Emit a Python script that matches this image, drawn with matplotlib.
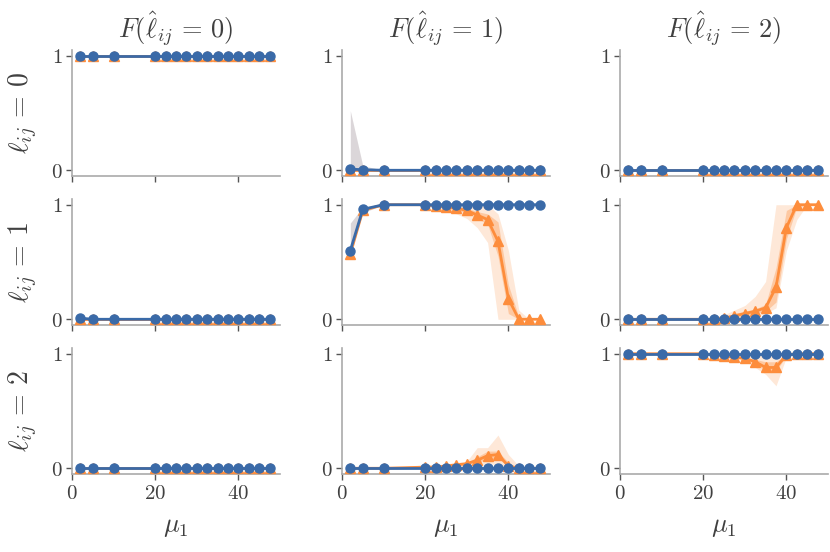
import numpy as np
import matplotlib
matplotlib.use("Agg")
import matplotlib.pyplot as plt

plt.rcParams['mathtext.fontset'] = 'cm'
plt.rcParams['font.family'] = ['DejaVu Serif']

mu = [2, 5, 10, 20, 22.5, 25, 27.5, 30, 32.5, 35, 37.5, 40, 42.5, 45, 47.5]

col_titles = [r'$F(\hat{\ell}_{ij}\,=\,0)$', r'$F(\hat{\ell}_{ij}\,=\,1)$', r'$F(\hat{\ell}_{ij}\,=\,2)$']
row_labels = [r'$\ell_{ij}\,=\,0$', r'$\ell_{ij}\,=\,1$', r'$\ell_{ij}\,=\,2$']

ones = [1] * 15
zeros = [0] * 15

# blue series (circles): mean, band low, band high
blue = {
    (0, 0): (ones, ones, ones),
    (0, 1): ([0.01, 0.005, 0, 0, 0, 0, 0, 0, 0, 0, 0, 0, 0, 0, 0],
             zeros,
             [0.52, 0.04, 0, 0, 0, 0, 0, 0, 0, 0, 0, 0, 0, 0, 0]),
    (0, 2): (zeros, zeros, zeros),
    (1, 0): ([0.01, 0, 0, 0, 0, 0, 0, 0, 0, 0, 0, 0, 0, 0, 0], zeros, zeros),
    (1, 1): ([0.6, 0.96, 1, 1, 1, 1, 1, 1, 1, 1, 1, 1, 1, 1, 1],
             [0.56, 0.93, 1, 1, 1, 1, 1, 1, 1, 1, 1, 1, 1, 1, 1],
             [0.84, 0.98, 1, 1, 1, 1, 1, 1, 1, 1, 1, 1, 1, 1, 1]),
    (1, 2): (zeros, zeros, zeros),
    (2, 0): (zeros, zeros, zeros),
    (2, 1): (zeros, zeros, zeros),
    (2, 2): (ones, ones, ones),
}

# orange series (triangles): mean, inner low, inner high, outer low, outer high
orange = {
    (0, 0): (ones, ones, ones, ones, ones),
    (0, 1): (zeros, zeros, zeros, zeros, zeros),
    (0, 2): (zeros, zeros, zeros, zeros, zeros),
    (1, 0): (zeros, zeros, zeros, zeros, zeros),
    (1, 1): ([0.57, 0.95, 1, 1, 0.99, 0.98, 0.97, 0.95, 0.91, 0.87, 0.68, 0.18, 0, 0, 0],
             [0.57, 0.95, 1, 1, 0.98, 0.97, 0.95, 0.93, 0.88, 0.83, 0.55, 0.05, 0, 0, 0],
             [0.57, 0.95, 1, 1, 1, 0.99, 0.98, 0.97, 0.94, 0.92, 0.85, 0.30, 0.02, 0, 0],
             [0.57, 0.95, 1, 1, 0.97, 0.95, 0.92, 0.88, 0.80, 0.67, 0.0, 0.0, 0, 0, 0],
             [0.57, 0.95, 1, 1, 1, 1, 1, 1, 1, 1, 0.92, 0.60, 0.08, 0, 0]),
    (1, 2): ([0, 0, 0, 0, 0, 0.01, 0.03, 0.05, 0.07, 0.10, 0.28, 0.80, 1, 1, 1],
             [0, 0, 0, 0, 0, 0, 0.01, 0.03, 0.05, 0.07, 0.15, 0.70, 0.98, 1, 1],
             [0, 0, 0, 0, 0.01, 0.02, 0.05, 0.07, 0.09, 0.13, 0.45, 0.95, 1, 1, 1],
             [0, 0, 0, 0, 0, 0, 0, 0, 0.02, 0.05, 0.10, 0.60, 0.87, 1, 1],
             [0, 0, 0, 0, 0.02, 0.04, 0.08, 0.12, 0.20, 0.33, 1, 1, 1, 1, 1]),
    (2, 0): (zeros, zeros, zeros, zeros, zeros),
    (2, 1): ([0, 0, 0, 0.01, 0.01, 0.02, 0.03, 0.04, 0.07, 0.11, 0.12, 0.02, 0, 0, 0],
             [0, 0, 0, 0, 0, 0.01, 0.02, 0.03, 0.05, 0.08, 0.09, 0.01, 0, 0, 0],
             [0, 0, 0, 0.02, 0.02, 0.03, 0.04, 0.05, 0.10, 0.15, 0.15, 0.05, 0, 0, 0],
             [0, 0, 0, 0, 0, 0, 0, 0, 0.01, 0.04, 0.03, 0, 0, 0, 0],
             [0, 0, 0, 0.03, 0.03, 0.04, 0.05, 0.06, 0.18, 0.18, 0.29, 0.12, 0.02, 0, 0]),
    (2, 2): ([1, 1, 1, 1, 0.99, 0.98, 0.97, 0.96, 0.93, 0.88, 0.88, 0.99, 1, 1, 1],
             [1, 1, 1, 1, 0.98, 0.97, 0.96, 0.95, 0.91, 0.85, 0.85, 0.98, 1, 1, 1],
             [1, 1, 1, 1, 1, 0.99, 0.98, 0.97, 0.95, 0.93, 0.93, 1, 1, 1, 1],
             [1, 1, 1, 1, 0.97, 0.96, 0.95, 0.94, 0.88, 0.82, 0.72, 0.97, 1, 1, 1],
             [1, 1, 1, 1, 1, 1, 1, 1, 1, 1, 1, 1, 1, 1, 1]),
}

BLUE = '#3a6aa8'
ORANGE = '#fd8d3c'
TXT = '#404040'
SPINE = '#aaaaaa'

fig = plt.figure(figsize=(8.3, 5.52), dpi=100)
W, H = 830, 552
lefts = [72, 342, 620]
tops = [50, 199, 348]
aw, ah = 208, 126

for r in range(3):
    for c in range(3):
        ax = fig.add_axes([lefts[c] / W, 1 - (tops[r] + ah) / H, aw / W, ah / H])
        m, il, ih, ol, oh = orange[(r, c)]
        ax.fill_between(mu, ol, oh, color=ORANGE, alpha=0.2, lw=0)
        ax.fill_between(mu, il, ih, color=ORANGE, alpha=0.35, lw=0)
        ax.plot(mu, m, color=ORANGE, lw=2, marker='^', ms=6.5, zorder=3)
        bm, bl, bh = blue[(r, c)]
        ax.fill_between(mu, bl, bh, color='#8a7a82', alpha=0.3, lw=0)
        ax.plot(mu, bm, color=BLUE, lw=2, marker='o', ms=6.5, zorder=4)

        ax.set_xlim(0, 50)
        ax.set_ylim(-0.05, 1.05)
        ax.set_yticks([0, 1])
        ax.set_yticklabels(['$0$', '$1$'])
        ax.set_xticks([0, 20, 40])
        if r == 2:
            ax.set_xticklabels(['$0$', '$20$', '$40$'])
            ax.set_xlabel(r'$\mu_1$', fontsize=19, color=TXT, labelpad=8)
        else:
            ax.set_xticklabels([])
        if r == 0:
            ax.set_title(col_titles[c], fontsize=19, color=TXT, pad=8)
        if c == 0:
            ax.set_ylabel(row_labels[r], fontsize=20, color=TXT, labelpad=8)
        for s in ['top', 'right']:
            ax.spines[s].set_visible(False)
        for s in ['left', 'bottom']:
            ax.spines[s].set_color(SPINE)
            ax.spines[s].set_linewidth(1.2)
        ax.tick_params(colors=TXT, labelsize=15, length=4, width=1, pad=3)
        ax.tick_params(color='#555555')

fig.savefig('out.png', dpi=100)
